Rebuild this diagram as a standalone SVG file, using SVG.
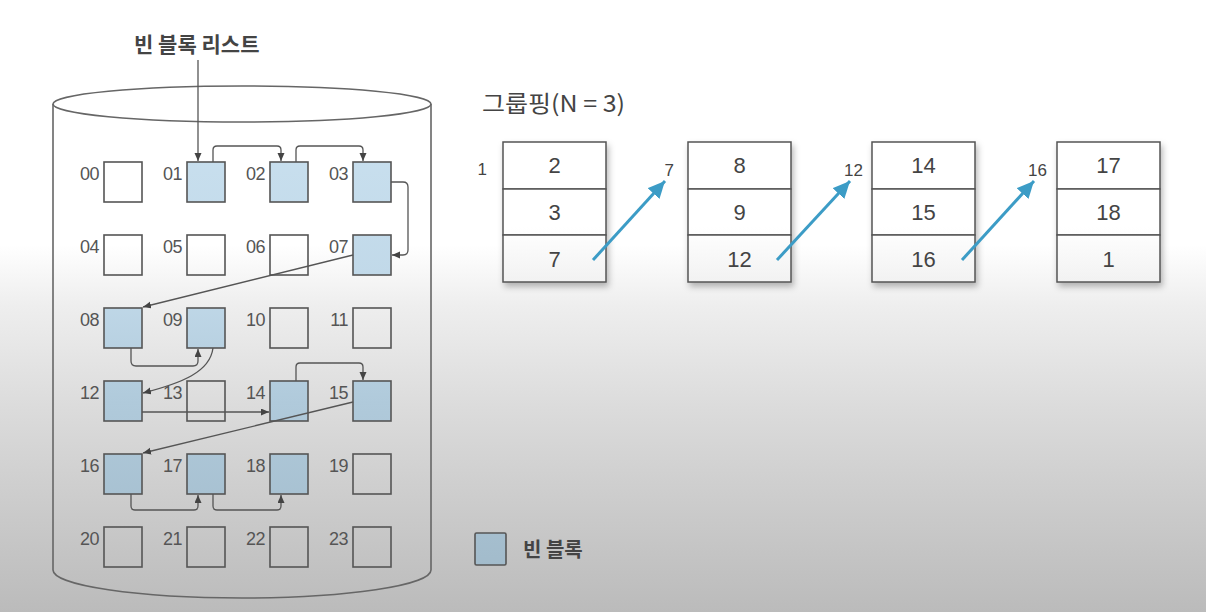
<svg xmlns="http://www.w3.org/2000/svg" width="1206" height="612" viewBox="0 0 1206 612">
<defs>
  <linearGradient id="bg" gradientUnits="userSpaceOnUse" x1="0" y1="0" x2="0" y2="612">
    <stop offset="0" stop-color="#ffffff"/>
    <stop offset="0.40" stop-color="#ffffff"/>
    <stop offset="0.50" stop-color="#eeeeee"/>
    <stop offset="0.66" stop-color="#dcdcdc"/>
    <stop offset="0.82" stop-color="#cccccc"/>
    <stop offset="1" stop-color="#bbbbbb"/>
  </linearGradient>
  <linearGradient id="freeFill" gradientUnits="userSpaceOnUse" x1="0" y1="150" x2="0" y2="570">
    <stop offset="0" stop-color="#c8dfee"/>
    <stop offset="0.35" stop-color="#c0d8e8"/>
    <stop offset="0.6" stop-color="#b0cadb"/>
    <stop offset="1" stop-color="#a2bbcb"/>
  </linearGradient>
  <linearGradient id="cellFill" gradientUnits="userSpaceOnUse" x1="0" y1="140" x2="0" y2="285">
    <stop offset="0" stop-color="#ffffff"/>
    <stop offset="0.6" stop-color="#ffffff"/>
    <stop offset="1" stop-color="#f1f1f1"/>
  </linearGradient>
  <filter id="shadow" x="-20%" y="-20%" width="150%" height="150%">
    <feDropShadow dx="2" dy="4" stdDeviation="3" flood-color="#000" flood-opacity="0.28"/>
  </filter>
  <marker id="ah" markerUnits="userSpaceOnUse" markerWidth="9" markerHeight="8" refX="8" refY="3.5" orient="auto">
    <path d="M0,0 L8,3.5 L0,7 z" fill="#444"/>
  </marker>
  <marker id="bah" markerUnits="userSpaceOnUse" markerWidth="20" markerHeight="18" refX="17" refY="8" orient="auto">
    <path d="M0,0 L17,8 L0,16 z" fill="#3c9cc6"/>
  </marker>
</defs>
<style>
  .lbl { font-family: "Liberation Sans", "Noto Sans", sans-serif; font-size: 18px; fill: #555; text-anchor: end; letter-spacing: -0.5px; }
  .box { fill: none; stroke: #555; stroke-width: 1.6; }
  .free { fill: url(#freeFill); stroke: #555; stroke-width: 1.6; }
  .conn { fill: none; stroke: #555; stroke-width: 1.3; marker-end: url(#ah); }
  .blue { fill: none; stroke: #3c9cc6; stroke-width: 3; marker-end: url(#bah); }
  .cell { fill: url(#cellFill); stroke: #555; stroke-width: 1.5; }
  .num { font-family: "Liberation Sans", "Noto Sans", sans-serif; font-size: 22px; fill: #444; text-anchor: middle; }
  .side { font-family: "Liberation Sans", "Noto Sans", sans-serif; font-size: 17px; fill: #444; text-anchor: end; }
  .ko { font-family: "Noto Sans CJK KR", "Noto Sans", sans-serif; fill: #444; }
</style>
<rect x="0" y="0" width="1206" height="612" fill="url(#bg)"/>

<!-- disk cylinder -->
<g id="disk">
  <path d="M53,104 V570 A189,28 0 0 0 431,570 V104" fill="none" stroke="#666" stroke-width="1.6"/>
  <ellipse cx="242" cy="104" rx="189" ry="18" fill="none" stroke="#666" stroke-width="1.6"/>
</g>

<g id="free-list-label">
  <text class="ko" x="134" y="52" font-size="21" font-weight="bold" fill="#555">빈 블록 리스트</text>
</g>

<!-- blocks -->
<g id="b00"><rect class="box" x="104" y="162" width="38" height="40"/><text class="lbl" x="99" y="180">00</text></g>
<g id="b01"><rect class="free" x="187" y="162" width="38" height="40"/><text class="lbl" x="182" y="180">01</text></g>
<g id="b02"><rect class="free" x="270" y="162" width="38" height="40"/><text class="lbl" x="265" y="180">02</text></g>
<g id="b03"><rect class="free" x="353" y="162" width="38" height="40"/><text class="lbl" x="348" y="180">03</text></g>

<g id="b04"><rect class="box" x="104" y="235" width="38" height="40"/><text class="lbl" x="99" y="253">04</text></g>
<g id="b05"><rect class="box" x="187" y="235" width="38" height="40"/><text class="lbl" x="182" y="253">05</text></g>
<g id="b06"><rect class="box" x="270" y="235" width="38" height="40"/><text class="lbl" x="265" y="253">06</text></g>
<g id="b07"><rect class="free" x="353" y="235" width="38" height="40"/><text class="lbl" x="348" y="253">07</text></g>

<g id="b08"><rect class="free" x="104" y="308" width="38" height="40"/><text class="lbl" x="99" y="326">08</text></g>
<g id="b09"><rect class="free" x="187" y="308" width="38" height="40"/><text class="lbl" x="182" y="326">09</text></g>
<g id="b10"><rect class="box" x="270" y="308" width="38" height="40"/><text class="lbl" x="265" y="326">10</text></g>
<g id="b11"><rect class="box" x="353" y="308" width="38" height="40"/><text class="lbl" x="348" y="326">11</text></g>

<g id="b12"><rect class="free" x="104" y="381" width="38" height="40"/><text class="lbl" x="99" y="399">12</text></g>
<g id="b13"><rect class="box" x="187" y="381" width="38" height="40"/><text class="lbl" x="182" y="399">13</text></g>
<g id="b14"><rect class="free" x="270" y="381" width="38" height="40"/><text class="lbl" x="265" y="399">14</text></g>
<g id="b15"><rect class="free" x="353" y="381" width="38" height="40"/><text class="lbl" x="348" y="399">15</text></g>

<g id="b16"><rect class="free" x="104" y="454" width="38" height="40"/><text class="lbl" x="99" y="472">16</text></g>
<g id="b17"><rect class="free" x="187" y="454" width="38" height="40"/><text class="lbl" x="182" y="472">17</text></g>
<g id="b18"><rect class="free" x="270" y="454" width="38" height="40"/><text class="lbl" x="265" y="472">18</text></g>
<g id="b19"><rect class="box" x="353" y="454" width="38" height="40"/><text class="lbl" x="348" y="472">19</text></g>

<g id="b20"><rect class="box" x="104" y="527" width="38" height="40"/><text class="lbl" x="99" y="545">20</text></g>
<g id="b21"><rect class="box" x="187" y="527" width="38" height="40"/><text class="lbl" x="182" y="545">21</text></g>
<g id="b22"><rect class="box" x="270" y="527" width="38" height="40"/><text class="lbl" x="265" y="545">22</text></g>
<g id="b23"><rect class="box" x="353" y="527" width="38" height="40"/><text class="lbl" x="348" y="545">23</text></g>

<!-- grouping tables -->
<g id="title"><text class="ko" x="482" y="112" font-size="23" textLength="143" lengthAdjust="spacingAndGlyphs">그룹핑(N = 3)</text></g>

<g id="t1">
  <g filter="url(#shadow)">
    <rect class="cell" x="503" y="142" width="103" height="47"/>
    <rect class="cell" x="503" y="189" width="103" height="46"/>
    <rect class="cell" x="503" y="235" width="103" height="47"/>
  </g>
  <text class="num" x="554.5" y="173">2</text>
  <text class="num" x="554.5" y="220">3</text>
  <text class="num" x="554.5" y="267">7</text>
  <text class="side" x="487" y="175">1</text>
</g>
<g id="t2">
  <g filter="url(#shadow)">
    <rect class="cell" x="688" y="142" width="103" height="47"/>
    <rect class="cell" x="688" y="189" width="103" height="46"/>
    <rect class="cell" x="688" y="235" width="103" height="47"/>
  </g>
  <text class="num" x="739.5" y="173">8</text>
  <text class="num" x="739.5" y="220">9</text>
  <text class="num" x="739.5" y="267">12</text>
  <text class="side" x="674" y="176">7</text>
</g>
<g id="t3">
  <g filter="url(#shadow)">
    <rect class="cell" x="872" y="142" width="103" height="47"/>
    <rect class="cell" x="872" y="189" width="103" height="46"/>
    <rect class="cell" x="872" y="235" width="103" height="47"/>
  </g>
  <text class="num" x="923.5" y="173">14</text>
  <text class="num" x="923.5" y="220">15</text>
  <text class="num" x="923.5" y="267">16</text>
  <text class="side" x="863" y="176">12</text>
</g>
<g id="t4">
  <g filter="url(#shadow)">
    <rect class="cell" x="1057" y="142" width="103" height="47"/>
    <rect class="cell" x="1057" y="189" width="103" height="46"/>
    <rect class="cell" x="1057" y="235" width="103" height="47"/>
  </g>
  <text class="num" x="1108.5" y="173">17</text>
  <text class="num" x="1108.5" y="220">18</text>
  <text class="num" x="1108.5" y="267">1</text>
  <text class="side" x="1047" y="176">16</text>
</g>

<!-- legend -->
<g id="legend">
  <rect class="free" x="475" y="533" width="31" height="32" rx="1.5"/>
  <text class="ko" x="523" y="557" font-size="20" font-weight="bold">빈 블록</text>
</g>

<!-- connectors -->
<g id="connectors">
  <path class="conn" d="M198,60 V161"/>
  <path class="conn" d="M213,162 V150 Q213,146 217,146 H277 Q281,146 281,150 V161"/>
  <path class="conn" d="M296,162 V150 Q296,146 300,146 H359 Q363,146 363,150 V161"/>
  <path class="conn" d="M391,182 H403 Q408,182 408,187 V250 Q408,255 403,255 H392"/>
  <path class="conn" d="M353,255 L143,307"/>
  <path class="conn" d="M131,348 V361 Q131,366 136,366 H193 Q198,366 198,361 V349"/>
  <path class="conn" d="M213,348 C210,372 182,383 143,393"/>
  <path class="conn" d="M142,412 H269"/>
  <path class="conn" d="M296,381 V367 Q296,363 300,363 H359 Q363,363 363,367 V380"/>
  <path class="conn" d="M353,402 L143,453"/>
  <path class="conn" d="M131,494 V506 Q131,510 135,510 H194 Q198,510 198,506 V495"/>
  <path class="conn" d="M213,494 V506 Q213,510 217,510 H277 Q281,510 281,506 V495"/>
  <path class="blue" d="M593,260 L665,181"/>
  <path class="blue" d="M777,260 L850,181"/>
  <path class="blue" d="M962,260 L1034,181"/>
</g>
</svg>
